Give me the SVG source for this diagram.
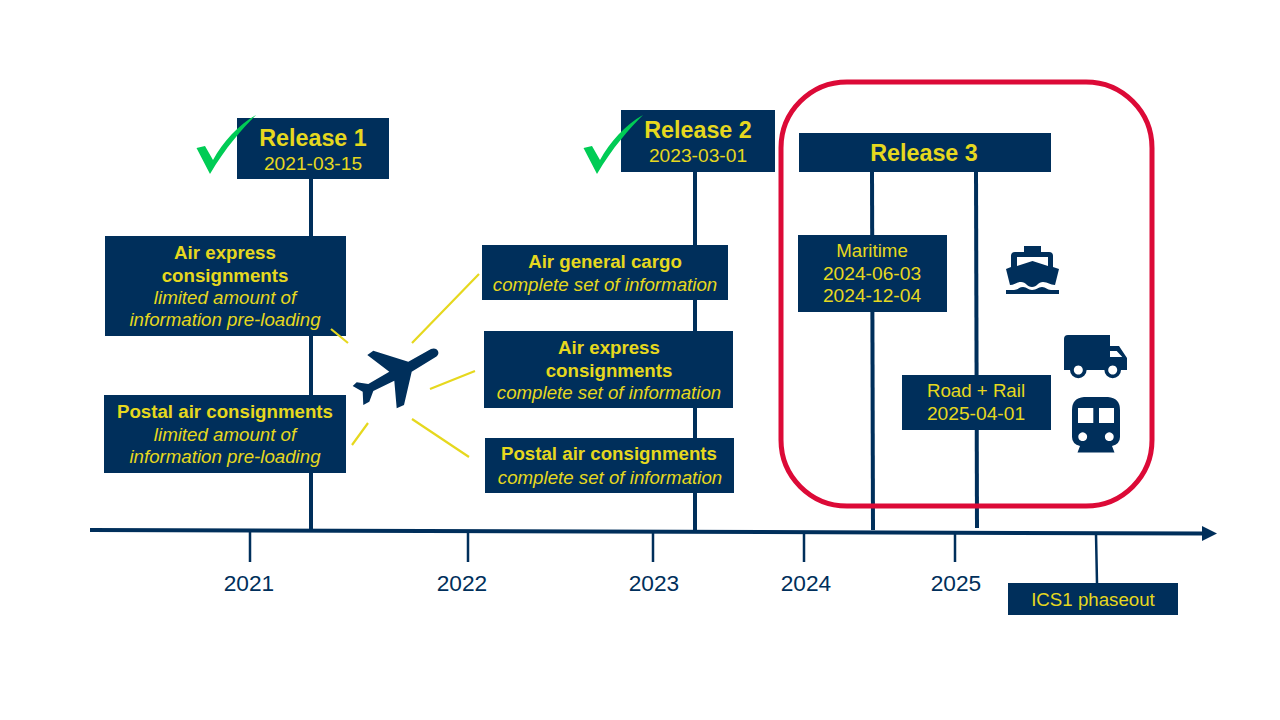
<svg xmlns="http://www.w3.org/2000/svg" width="1280" height="720" viewBox="0 0 1280 720">
<style>
text{font-family:"Liberation Sans",Arial,sans-serif;text-anchor:middle;fill:#e6d81e}
.box{fill:#002f5b}
.b{font-weight:700;font-size:18.7px}
.t{font-size:18.7px}
.d{font-size:19.2px}
.i{font-size:18.7px;font-style:italic}
.h{font-weight:700;font-size:23.3px}
.y{fill:#002f5b;font-size:22.7px}
.ln{stroke:#002f5b;stroke-width:4;fill:none}
.tk{stroke:#002f5b;stroke-width:2.5;fill:none}
.ray{stroke:#e6d81e;stroke-width:2.2;fill:none}
.ck{fill:#00cc55}
.ic{fill:#002f5b}
</style>
<defs>
<marker id="arr" markerUnits="userSpaceOnUse" markerWidth="16" markerHeight="16" refX="1" refY="8" orient="auto"><path d="M0 0.500L15 8L0 15.500Z" fill="#002f5b"/></marker>
<path id="check" d="M196.500 148L205 146L213 160C223 142 238 125 256 115C243 128 225 148 210 174Z"/>
</defs>
<rect width="1280" height="720" fill="#fff"/>
<g id="connectors">
<path class="ln" d="M90 530L1203 533.500" marker-end="url(#arr)"/>
<path class="ln" d="M311 179V530"/>
<path class="ln" d="M695 172V530"/>
<path class="ln" d="M872 172L873 530"/>
<path class="ln" d="M976 172L977 528"/>
<path class="tk" d="M250 531V562M468 532V562M653 532V562M804 533V562M955 534V562M1096 534L1097 583"/>
</g>
<g id="frame"><rect x="781" y="82" width="371" height="424" rx="66" fill="none" stroke="#dc0a37" stroke-width="5"/></g>
<g id="release1"><rect class="box" x="237" y="118" width="152" height="61"/><text class="h" x="313" y="146">Release 1</text><text class="d" x="313" y="170">2021-03-15</text><use href="#check" class="ck"/></g>
<g id="release2"><rect class="box" x="621" y="110" width="154" height="62"/><text class="h" x="698" y="138">Release 2</text><text class="d" x="698" y="162">2023-03-01</text><use href="#check" class="ck" transform="translate(387,0)"/></g>
<g id="release3"><rect class="box" x="799" y="133" width="252" height="39"/><text class="h" x="924" y="161">Release 3</text></g>
<g id="air-express-1"><rect class="box" x="105" y="236" width="241" height="100"/><text class="b" x="225" y="259">Air express</text><text class="b" x="225" y="282">consignments</text><text class="i" x="225" y="304">limited amount of</text><text class="i" x="225" y="326">information pre-loading</text></g>
<g id="postal-1"><rect class="box" x="104" y="395" width="242" height="78"/><text class="b" x="225" y="418">Postal air consignments</text><text class="i" x="225" y="441">limited amount of</text><text class="i" x="225" y="463">information pre-loading</text></g>
<g id="air-general"><rect class="box" x="482" y="245" width="246" height="55"/><text class="b" x="605" y="268">Air general cargo</text><text class="i" x="605" y="291">complete set of information</text></g>
<g id="air-express-2"><rect class="box" x="484" y="331" width="249" height="77"/><text class="b" x="609" y="354">Air express</text><text class="b" x="609" y="377">consignments</text><text class="i" x="609" y="399">complete set of information</text></g>
<g id="postal-2"><rect class="box" x="485" y="438" width="249" height="55"/><text class="b" x="609" y="460">Postal air consignments</text><text class="i" x="610" y="484">complete set of information</text></g>
<g id="maritime"><rect class="box" x="798" y="235" width="149" height="77"/><text class="t" x="872" y="257">Maritime</text><text class="d" x="872" y="280">2024-06-03</text><text class="d" x="872" y="302">2024-12-04</text></g>
<g id="road-rail"><rect class="box" x="902" y="375" width="149" height="55"/><text class="t" x="976" y="397">Road + Rail</text><text class="d" x="976" y="420">2025-04-01</text></g>
<g id="phaseout"><rect class="box" x="1008" y="583" width="170" height="32"/><text class="t" x="1093" y="606">ICS1 phaseout</text></g>
<g id="years">
<text class="y" x="249" y="591">2021</text><text class="y" x="462" y="591">2022</text><text class="y" x="654" y="591">2023</text><text class="y" x="806" y="591">2024</text><text class="y" x="956" y="591">2025</text>
</g>
<g id="rays"><path class="ray" d="M331 329L348 343M368 423L352 445M412 343L479 274M430 389L475 371M412 419L469 457"/></g>
<g id="plane"><path class="ic" d="M431 349C437 346.500 441 353 436.500 356.500L411.700 371.700L404 405L396.700 408.300L394.300 380.700L373.300 391L369.300 401.700L363.300 405L362.700 391.700L352.700 386L356.700 382.300L368.300 384L389.300 371.700L367.300 355L373.300 350.700L408.300 361.700Z"/></g>
<g id="ship"><path class="ic" fill-rule="evenodd" d="M1006 269L1011 267V256Q1011 252 1015 252H1024V246H1041V252H1049Q1053 252 1053 256V267L1059 269L1055 285C1050 285 1048 282 1043 282C1038 282 1037 287 1032 287C1027 287 1026 282 1021 282C1016 282 1015 285 1010 285ZM1017 257H1048V266L1032.500 261L1017 266Z"/><path class="ic" d="M1006 290H1014C1018 290 1019 287 1023 287C1027 287 1028 290 1032 290C1037 290 1038 287 1042 287C1046 287 1047 290 1051 290H1059V294H1006Z"/></g>
<g id="truck"><path class="ic" fill-rule="evenodd" d="M1068 335H1110V346H1119L1127 358V370H1121A8.300 8.300 0 0 1 1104.400 370H1086.600A8.300 8.300 0 0 1 1070 370H1064V339Q1064 335 1068 335ZM1110 351V357H1122.300L1116.700 351ZM1078.300 365.500A4.500 4.500 0 1 0 1078.310 365.500ZM1112.700 365.500A4.500 4.500 0 1 0 1112.710 365.500Z"/></g>
<g id="train"><path class="ic" fill-rule="evenodd" d="M1084 397H1108Q1120 398 1120 410V437Q1120 444 1112 446L1114.500 452.500H1077.500L1080 446Q1072 444 1072 437V410Q1072 398 1084 397ZM1078 408V423H1093.300V408ZM1099 408V423H1114V408ZM1082.700 432.300A4.400 4.400 0 1 0 1082.710 432.300ZM1109.300 432.300A4.400 4.400 0 1 0 1109.310 432.300Z"/></g>
</svg>
